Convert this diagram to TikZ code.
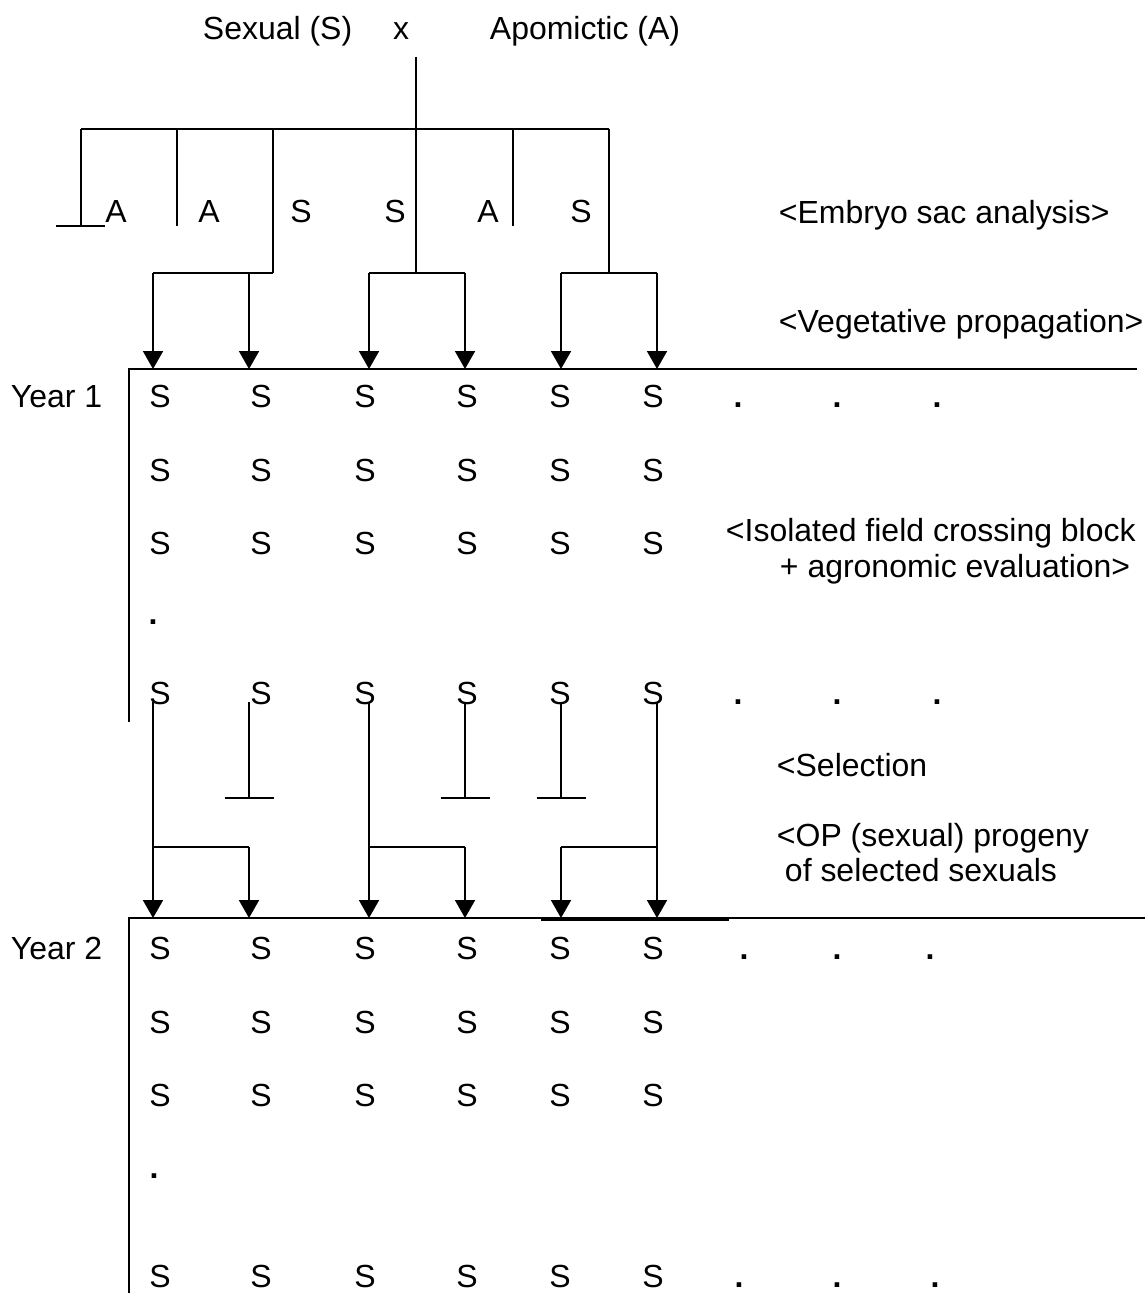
\documentclass[tikz,border=0pt]{standalone}
\usepackage{fontspec}
\setmainfont{Liberation Sans}
\usetikzlibrary{arrows.meta}

\tikzset{
  lbl/.style={inner sep=0pt, anchor=base},
  dot/.style={inner sep=0pt, anchor=base, font=\fontsize{18.2pt}{22pt}\selectfont\bfseries},
  note/.style={inner sep=0pt, anchor=base west},
  arr/.style={-{Triangle[width=0.4cm,length=0.36cm]}},
}

\begin{document}
\begin{tikzpicture}[x=0.02cm, y=-0.02cm, line width=1.1pt,
    font=\fontsize{18.2pt}{22pt}\selectfont]
    \useasboundingbox (0,0) rectangle (1145,1293);

    % the cross
    \node[note] (sex) at (202,40) {Sexual (S)};
    \node[lbl] (cross) at (401,40) {x};
    \node[note] (apo) at (489,40) {Apomictic (A)};

    % embryo sac classes
    \node[lbl] (e1) at (116,223) {A};
    \node[lbl] (e2) at (209,223) {A};
    \node[lbl] (e3) at (301,223) {S};
    \node[lbl] (e4) at (395,223) {S};
    \node[lbl] (e5) at (488,223) {A};
    \node[lbl] (e6) at (581,223) {S};

    \coordinate (stem) at (416,57);
    \coordinate (b1) at (81,129);
    \coordinate (b2) at (177,129);
    \coordinate (b3) at (273,129);
    \coordinate (b5) at (513,129);
    \coordinate (b6) at (609,129);
    \coordinate (k1) at (273,273);
    \coordinate (k2) at (416,273);
    \coordinate (k3) at (609,273);

    \draw (stem) -- (k2);
    \draw (b1) -- (b6);
    \draw (b1) -- (81,226);
    \draw (56,226) -- (105,226);
    \draw (b2) -- (177,226);
    \draw (b3) -- (k1);
    \draw (b5) -- (513,226);
    \draw (b6) -- (k3);

    \foreach \x [count=\i] in {153,249,369,465,561,657} {
        \coordinate (h\i) at (\x,273);
        \coordinate (p\i) at (\x,369);
        \coordinate (g\i) at (\x,702);
        \coordinate (c\i) at (\x,798);
        \coordinate (m\i) at (\x,847);
        \coordinate (q\i) at (\x,918);
    }

    % vegetative propagation
    \draw (k1) -- (h1);
    \draw (h3) -- (h4);
    \draw (h5) -- (h6);
    \foreach \i in {1,...,6}
        \draw[arr] (h\i) -- (p\i);

    % year 1 block
    \node[note] (yr1) at (10,408) {Year 1};
    \coordinate (y1a) at (129,369);
    \coordinate (y1b) at (1137,369);
    \coordinate (y1c) at (129,722);
    \draw (y1b) -- (y1a) -- (y1c);

    \foreach \r/\yy in {1/408,2/481,3/554,5/704}
        \foreach \x [count=\c] in {160,261,365,467,560,653}
            \node[lbl] (s\r\c) at (\x,\yy) {S};
    \node[dot] (s41) at (153,624) {.};
    \foreach \x [count=\c] in {738,837,937} {
        \node[dot] (d1\c) at (\x,408) {.};
        \node[dot] (d5\c) at (\x,704) {.};
    }

    % selection
    \foreach \i in {1,3,6}
        \draw[arr] (g\i) -- (q\i);
    \foreach \i in {2,4,5} {
        \draw (g\i) -- (c\i);
        \draw ([xshift=-0.49cm]c\i) -- ([xshift=0.49cm]c\i);
    }
    \draw (m1) -- (m2);
    \draw (m3) -- (m4);
    \draw (m6) -- (m5);
    \draw[arr] (m2) -- (q2);
    \draw[arr] (m4) -- (q4);
    \draw[arr] (m5) -- (q5);

    % year 2 block
    \node[note] (yr2) at (10,959) {Year 2};
    \coordinate (y2a) at (129,918);
    \coordinate (y2b) at (1145,918);
    \coordinate (y2c) at (129,1293);
    \draw (y2b) -- (y2a) -- (y2c);
    \draw (541,920) -- (729,920);

    \foreach \r/\yy in {1/959,2/1033,3/1106,5/1287}
        \foreach \x [count=\c] in {160,261,365,467,560,653}
            \node[lbl] (t\r\c) at (\x,\yy) {S};
    \node[dot] (t41) at (154,1178) {.};
    \node[dot] (f11) at (744,959) {.};
    \node[dot] (f12) at (837,959) {.};
    \node[dot] (f13) at (930,959) {.};
    \node[dot] (f51) at (739,1287) {.};
    \node[dot] (f52) at (837,1287) {.};
    \node[dot] (f53) at (935,1287) {.};

    % steps
    \node[note] (n1) at (778,224) {<Embryo sac analysis>};
    \node[note] (n2) at (778,333) {<Vegetative propagation>};
    \node[note] (n3) at (725,541) {<Isolated field crossing block};
    \node[note] (n4) at (779,577) {+ agronomic evaluation>};
    \node[note] (n5) at (776,776) {<Selection};
    \node[note] (n6) at (776,846) {<OP (sexual) progeny};
    \node[note] (n7) at (784,881) {of selected sexuals};

\end{tikzpicture}
\end{document}
